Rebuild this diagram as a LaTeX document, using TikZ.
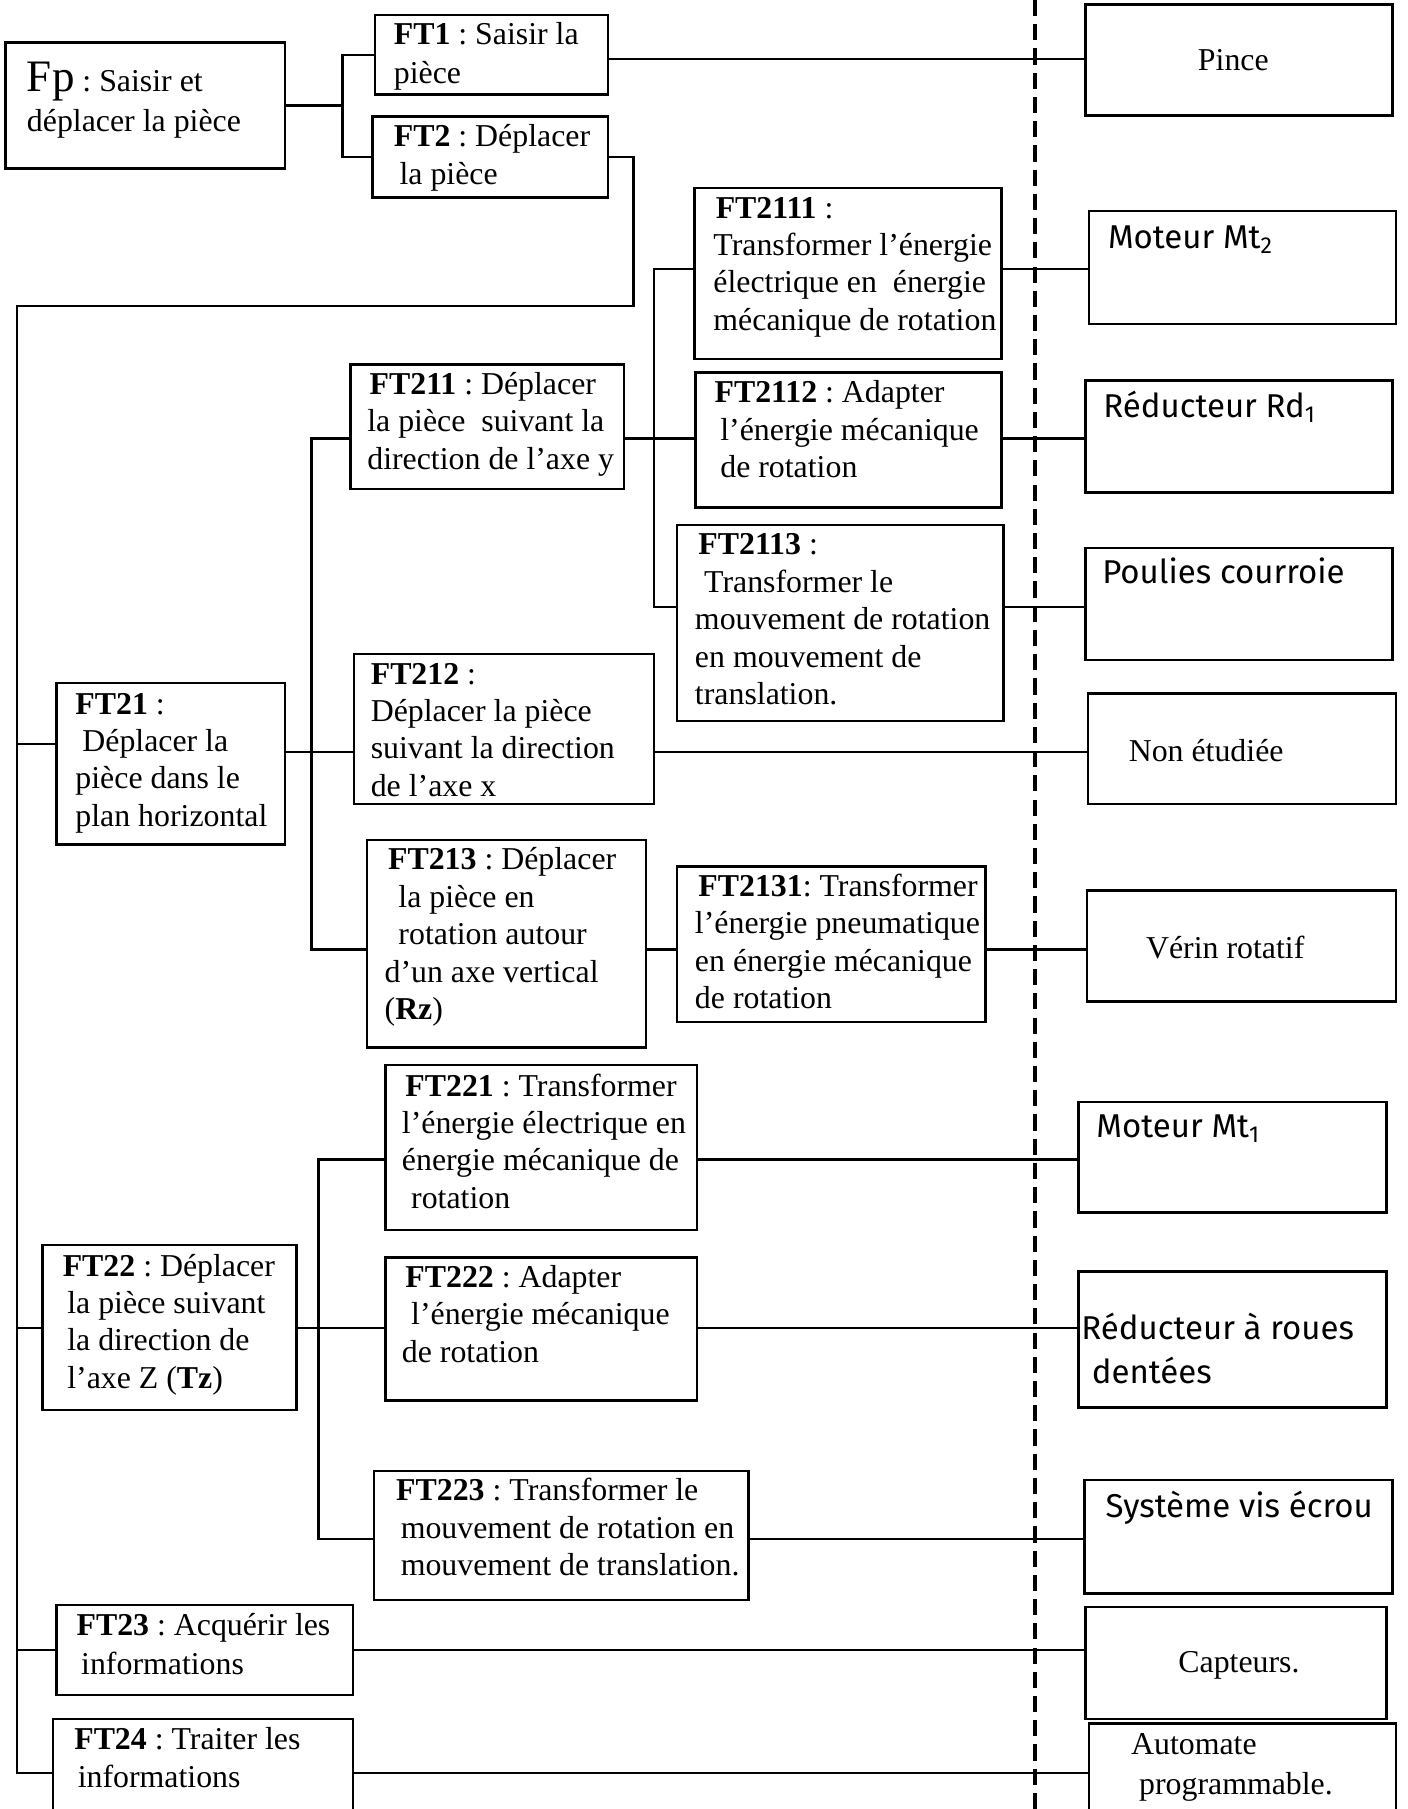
\documentclass[tikz,border=0pt]{standalone}
\usepackage{fontspec}
\setmainfont{Liberation Serif}
\newfontfamily\comicf{Fira Sans}
\usetikzlibrary{fit}
\frenchspacing
\newcommand\mkbox[5]{\path (#2,#3) coordinate (#1a) (#4,#5) coordinate (#1b);
  \node[boxst, fit=(#1a)(#1b)] (#1) {};}
\tikzset{
  boxst/.style={draw, line width=1.1pt, inner sep=0pt},
  conn/.style={line width=1pt},
  txt/.style={anchor=base west, inner sep=0pt, align=left, font=\fontsize{13.8}{16.2}\selectfont},
  txtb/.style={anchor=base west, inner sep=0pt, align=left, font=\fontsize{13.8}{16.6}\selectfont},
  ctxt/.style={anchor=base west, inner sep=0pt, align=left, font=\comicf\fontsize{14.3}{19}\selectfont},
  septl/.style={line width=1.5pt, dash pattern=on 7pt off 3.5pt}
}
\begin{document}
\begin{tikzpicture}[x=0.5pt,y=-0.5pt]
\useasboundingbox (0,0) rectangle (1219.6,1568);
\clip (0,0) rectangle (1219.6,1568);

% ---------- boxes ----------
\mkbox{fp}{5}{37}{247}{146}
\mkbox{ft1}{325}{13}{527}{82}
\mkbox{ft2}{323}{101}{527}{171}
\mkbox{pince}{941}{4}{1207}{100}
\mkbox{ft2111}{602}{163}{868}{311}
\mkbox{ft2112}{603}{323}{868}{440}
\mkbox{ft2113}{587}{455}{870}{625}
\mkbox{mt2}{944}{183}{1210}{281}
\mkbox{rd1}{941}{330}{1207}{427}
\mkbox{poulies}{941}{475}{1207}{572}
\mkbox{ft211}{304}{316}{541}{424}
\mkbox{ft212}{307}{567}{567}{697}
\mkbox{nonet}{943}{601}{1210}{697}
\mkbox{ft213}{318}{728}{560}{908}
\mkbox{ft2131}{587}{751}{854}{886}
\mkbox{verin}{942}{772}{1210}{868}
\mkbox{ft21}{49}{592}{247}{732}
\mkbox{ft221}{334}{923}{604}{1066}
\mkbox{ft222}{334}{1090}{604}{1214}
\mkbox{ft223}{324}{1275}{649}{1387}
\mkbox{ft22}{37}{1079}{257}{1222}
\mkbox{mt1}{935}{955}{1202}{1051}
\mkbox{rroues}{935}{1102}{1202}{1220}
\mkbox{vis}{940}{1283}{1207}{1381}
\mkbox{ft23}{49}{1391}{306}{1469}
\mkbox{capteurs}{941}{1393}{1202}{1490}
\mkbox{ft24}{46}{1490}{306}{1584}
\mkbox{automate}{944}{1494}{1210}{1580}

% ---------- helper coordinates ----------
\coordinate (busA) at (297,0);
\coordinate (busB) at (567,0);
\coordinate (busC) at (270,0);
\coordinate (busD) at (276,0);
\coordinate (trunkX) at (15,0);
\coordinate (turnX) at (549,0);
\coordinate (turnY) at (0,265);
\coordinate (lpince) at (0,51);
\coordinate (l2111) at (0,233);
\coordinate (l211) at (0,380);
\coordinate (l2113) at (0,526);
\coordinate (l21t) at (0,645);
\coordinate (l212) at (0,652);
\coordinate (l213) at (0,823);
\coordinate (l221) at (0,1005);
\coordinate (l22) at (0,1151);
\coordinate (l223) at (0,1334);
\coordinate (l23) at (0,1430);
\coordinate (l24) at (0,1537);
\coordinate (dtop) at (897,0);
\coordinate (dbot) at (897,1568);

% ---------- connectors ----------
\draw[conn] (fp.east) -- (fp.east -| busA);
\draw[conn] (ft1.west) -- (ft1.west -| busA) -- (ft2.west -| busA) -- (ft2.west);
\draw[conn] (ft1.east |- lpince) -- (pince.west |- lpince);
\draw[conn] (ft2.east) -- (ft2.east -| turnX) -- (turnX |- turnY) -- (trunkX |- turnY)
  -- (trunkX |- l24) -- (ft24.west |- l24);
\draw[conn] (trunkX |- l21t) -- (ft21.west |- l21t);
\draw[conn] (trunkX |- l22) -- (ft22.west |- l22);
\draw[conn] (trunkX |- l23) -- (ft23.west |- l23);

\draw[conn] (ft21.east |- l212) -- (ft212.west |- l212);
\draw[conn] (ft211.west |- l211) -- (busC |- l211) -- (busC |- l213) -- (ft213.west |- l213);
\draw[conn] (ft212.east |- l212) -- (nonet.west |- l212);
\draw[conn] (ft213.east |- l213) -- (ft2131.west |- l213);
\draw[conn] (ft2131.east |- l213) -- (verin.west |- l213);

\draw[conn] (ft2111.west |- l2111) -- (busB |- l2111) -- (busB |- l2113) -- (ft2113.west |- l2113);
\draw[conn] (ft211.east |- l211) -- (ft2112.west |- l211);
\draw[conn] (ft2111.east |- l2111) -- (mt2.west |- l2111);
\draw[conn] (ft2112.east |- l211) -- (rd1.west |- l211);
\draw[conn] (ft2113.east |- l2113) -- (poulies.west |- l2113);

\draw[conn] (ft22.east |- l22) -- (ft222.west |- l22);
\draw[conn] (ft221.west |- l221) -- (busD |- l221) -- (busD |- l223) -- (ft223.west |- l223);
\draw[conn] (ft221.east |- l221) -- (mt1.west |- l221);
\draw[conn] (ft222.east |- l22) -- (rroues.west |- l22);
\draw[conn] (ft223.east |- l223) -- (vis.west |- l223);
\draw[conn] (ft23.east |- l23) -- (capteurs.west |- l23);
\draw[conn] (ft24.east |- l24) -- (automate.west |- l24);

\draw[septl] (dtop) -- (dbot);

% ---------- texts (anchor = baseline of the last line) ----------
\node[txt, font=\fontsize{13.8}{17.5}\selectfont] (fpt) at (23,114) {{\fontsize{19.5}{22}\selectfont Fp} : Saisir et\\déplacer la pièce};
\node[txtb] (ft1t) at (341,72.2) {\textbf{FT1} : Saisir la\\pièce};
\node[txtb] (ft2t) at (341,160.2) {\textbf{FT2} : Déplacer\\\hspace{2.5pt}la pièce};
\node[txt, anchor=base] (pincet) at (1069,61) {Pince};
\node[txt] (ft2111t) at (618,286.2) {\hspace{1pt}\textbf{FT2111} :\\Transformer l’énergie\\électrique en\ \ énergie\\mécanique de rotation};
\node[txt] (ft2112t) at (619,413.8) {\textbf{FT2112} : Adapter\\\hspace{2.5pt}l’énergie mécanique\\\hspace{2.5pt}de rotation};
\node[txt] (ft2113t) at (602,610.6) {\hspace{1.5pt}\textbf{FT2113} :\\\hspace{4pt}Transformer le\\mouvement de rotation\\en mouvement de\\translation.};
\node[ctxt] (mt2t) at (960,215) {Moteur Mt\textsubscript{2}};
\node[ctxt] (rd1t) at (956,362) {Réducteur Rd\textsubscript{1}};
\node[ctxt] (poult) at (955,506) {Poulies courroie};
\node[txt] (ft211t) at (318,406.8) {\hspace{1pt}\textbf{FT211} : Déplacer\\la pièce\ \ suivant la\\direction de l’axe y};
\node[txt] (ft212t) at (321,690.2) {\textbf{FT212} :\\Déplacer la pièce\\suivant la direction\\de l’axe x};
\node[txt] (nonett) at (978,660) {Non étudiée};
\node[txt] (ft213t) at (333,883.6) {\hspace{1.5pt}\textbf{FT213} : Déplacer\\\hspace{6pt}la pièce en\\\hspace{6pt}rotation autour\\d’un axe vertical\\(\textbf{Rz})};
\node[txt] (ft2131t) at (602,874.2) {\hspace{1.5pt}\textbf{FT2131}: Transformer\\l’énergie pneumatique\\en énergie mécanique\\de rotation};
\node[txt] (verint) at (993,831) {Vérin rotatif};
\node[txt] (ft21t) at (65,716.2) {\textbf{FT21} :\\\hspace{3pt}Déplacer la\\pièce dans le\\plan horizontal};
\node[txt] (ft221t) at (348,1047.2) {\hspace{1.5pt}\textbf{FT221} : Transformer\\l’énergie électrique en\\énergie mécanique de\\\hspace{4pt}rotation};
\node[ctxt] (mt1t) at (950,986) {Moteur Mt\textsubscript{1}};
\node[txt] (ft222t) at (348,1180.8) {\hspace{1.5pt}\textbf{FT222} : Adapter\\\hspace{4pt}l’énergie mécanique\\de rotation};
\node[ctxt] (rrt) at (937,1199) {Réducteur à roues\\\hspace{4.5pt}dentées};
\node[txt] (ft22t) at (54,1203.2) {\textbf{FT22} : Déplacer\\\hspace{2pt}la pièce suivant\\\hspace{2pt}la direction de\\\hspace{2pt}l’axe Z (\textbf{Tz})};
\node[txt] (ft223t) at (343,1365.8) {\textbf{FT223} : Transformer le\\\hspace{2pt}mouvement de rotation en\\\hspace{2pt}mouvement de translation.};
\node[ctxt] (vist) at (958,1315) {Système vis écrou};
\node[txtb] (ft23t) at (66,1451.2) {\textbf{FT23} : Acquérir les\\\hspace{2pt}informations};
\node[txt] (capt) at (1021,1450) {Capteurs.};
\node[txtb] (ft24t) at (64,1549.2) {\textbf{FT24} : Traiter les\\\hspace{1.5pt}informations};
\node[txt, font=\fontsize{13.8}{17}\selectfont] (autot) at (980,1555) {Automate\\\hspace{3.5pt}programmable.};
\end{tikzpicture}
\end{document}
